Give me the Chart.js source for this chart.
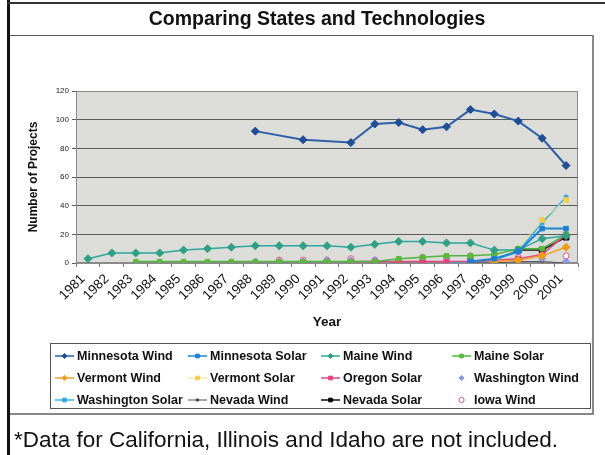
<!DOCTYPE html>
<html>
<head>
<meta charset="utf-8">
<script src="https://cdn.jsdelivr.net/npm/chart.js@4.4.1/dist/chart.umd.min.js"></script>
<style>
  html, body { margin: 0; padding: 0; background: #fff; }
  #wrap { position: relative; width: 605px; height: 455px; overflow: hidden;
          font-family: "Liberation Sans", Arial, sans-serif; color: #111; }
  #chart { position: absolute; left: 0; top: 0; }
  .rule { position: absolute; }
  .title { position: absolute; left: 26px; width: 582px; top: 7px; text-align: center;
           font-weight: bold; font-size: 19.5px; line-height: 23px; }
  .note { position: absolute; left: 14px; top: 427px; font-size: 22.5px; line-height: 26px; }
</style>
</head>
<body>
<div id="wrap">
  <canvas id="chart" width="605" height="455"></canvas>
  <div class="rule" style="left:7px;top:0;width:3px;height:455px;background:#111;"></div>
  <div class="rule" style="left:7px;top:2px;width:598px;height:2px;background:#333;"></div>
  <div class="rule" style="left:10px;top:35px;width:584px;height:1px;background:#555;"></div>
  <div class="rule" style="left:592px;top:35px;width:2px;height:380px;background:#888;"></div>
  <div class="rule" style="left:10px;top:413px;width:584px;height:2px;background:#888;"></div>
  <div class="title">Comparing States and Technologies</div>
  <div class="note">*Data for California, Illinois and Idaho are not included.</div>
</div>
<script>
// Project counts per year, 1981-2001 (null = no projects reported)
const years = ['1981','1982','1983','1984','1985','1986','1987','1988','1989','1990','1991',
               '1992','1993','1994','1995','1996','1997','1998','1999','2000','2001'];
const yTicks = [0, 20, 40, 60, 80, 100, 120];

const minnesotaWind    = [null,null,null,null,null,null,null,92,null,86,null,84,97,98,93,95,107,104,99,87,68];
const minnesotaSolar   = [null,null,null,null,null,null,null,null,null,null,null,null,null,null,null,null,1,3,8,24,24];
const maineWind        = [3,7,7,7,9,10,11,12,12,12,12,11,13,15,15,14,14,9,9,17,19];
const maineSolar       = [null,null,1,1,1,1,1,1,1,1,1,1,1,3,4,5,5,6,10,10,20];
const vermontWind      = [null,null,null,null,null,null,null,null,null,null,null,null,null,null,null,null,null,1,2,5,11];
const vermontSolar     = [null,null,null,null,null,null,null,null,null,null,null,null,null,null,null,null,null,2,10,30,44];
const oregonSolar      = [null,null,null,null,null,null,null,null,null,null,null,1,1,1,1,1,1,2,3,6,20];
const washingtonWind   = [null,null,null,null,null,null,null,1,1,1,2,2,2,2,2,2,2,3,3,3,1];
const washingtonSolar  = [null,null,null,null,null,null,null,null,null,null,null,null,null,null,null,0,1,2,8,28,46];
const nevadaWind       = [null,null,null,null,null,null,null,null,null,null,null,null,null,null,null,null,0,0,1,1,0];
const nevadaSolar      = [null,null,null,null,null,null,null,null,null,null,null,null,null,null,null,null,1,2,9,9,18];
const iowaWind         = [null,null,null,null,null,null,null,0,2,2,2,3,2,2,4,4,5,6,4,8,5];

const FONT = '"Liberation Sans", Arial, sans-serif';

function series(label, data, line, fill, style, radius, width, showLine) {
  return {
    label, data,
    borderColor: line, backgroundColor: fill,
    pointBorderColor: style === 'circle' ? line : fill,
    pointBackgroundColor: style === 'circle' ? '#ffffff' : fill,
    pointStyle: style, pointRadius: radius, pointBorderWidth: 1,
    borderWidth: width, showLine: showLine, tension: 0, spanGaps: true
  };
}

const datasets = [
  series('Minnesota Wind',   minnesotaWind,   '#2d5ea8', '#1f4e96', 'rectRot', 4,   2,   true),
  series('Minnesota Solar',  minnesotaSolar,  '#1c86d6', '#1c7fd0', 'rect',    3.2, 2,   true),
  series('Maine Wind',       maineWind,       '#2aa89c', '#2f9f86', 'rectRot', 4,   1.5, true),
  series('Maine Solar',      maineSolar,      '#52b340', '#5cb83a', 'rect',    3.2, 1.5, true),
  series('Vermont Wind',     vermontWind,     '#f3a024', '#f39a1c', 'rectRot', 4,   1.5, true),
  series('Vermont Solar',    vermontSolar,    '#f4e07a', '#f5cc46', 'rect',    3.2, 1,   true),
  series('Oregon Solar',     oregonSolar,     '#e2457f', '#ea3f7c', 'rect',    3.2, 1.5, true),
  series('Washington Wind',  washingtonWind,  '#9aa2e6', '#8f98e2', 'rectRot', 3.5, 1,   false),
  series('Washington Solar', washingtonSolar, '#34b4ec', '#2fa8e6', 'rect',    2.6, 1.5, true),
  series('Nevada Wind',      nevadaWind,      '#555555', '#444444', 'circle',  1.3, 1,   true),
  series('Nevada Solar',     nevadaSolar,     '#111111', '#000000', 'rect',    4,   1.5, true),
  series('Iowa Wind',        iowaWind,        '#e2508e', '#ffffff', 'circle',  3,   1,   false)
];
datasets[9].pointBackgroundColor = '#444444';
datasets[9].pointBorderColor = '#444444';

// Grey plot background with a thin frame
const plotFrame = {
  id: 'plotFrame',
  beforeDraw(chart) {
    const a = chart.chartArea, ctx = chart.ctx;
    ctx.save();
    ctx.fillStyle = '#dcdcd9';
    ctx.fillRect(a.left, a.top, a.right - a.left, a.bottom - a.top);
    ctx.restore();
  },
  beforeDatasetsDraw(chart) {
    const a = chart.chartArea, ctx = chart.ctx;
    ctx.save();
    ctx.strokeStyle = '#8a8a8a';
    ctx.lineWidth = 1;
    ctx.strokeRect(a.left + 0.5, a.top + 0.5, a.right - a.left - 1, a.bottom - a.top - 1);
    ctx.restore();
  }
};

// Four-column boxed legend under the axis
const gridLegend = {
  id: 'gridLegend',
  afterDraw(chart) {
    const ctx = chart.ctx;
    const textX = [77, 210, 343, 474];
    const rowY = [356, 378, 400];
    ctx.save();
    ctx.strokeStyle = '#555';
    ctx.lineWidth = 1;
    ctx.strokeRect(50.5, 343.5, 540, 65);
    ctx.font = 'bold 12.5px ' + FONT;
    ctx.textBaseline = 'middle';
    ctx.fillStyle = '#111';
    chart.data.datasets.forEach((ds, i) => {
      const tx = textX[i % 4], y = rowY[Math.floor(i / 4)];
      const x0 = tx - 22, x1 = tx - 3, xm = (x0 + x1) / 2;
      if (ds.showLine) {
        ctx.strokeStyle = ds.borderColor;
        ctx.lineWidth = Math.min(ds.borderWidth, 1.5);
        ctx.beginPath(); ctx.moveTo(x0, y); ctx.lineTo(x1, y); ctx.stroke();
      }
      ctx.fillStyle = ds.pointBackgroundColor;
      ctx.strokeStyle = ds.pointBorderColor;
      ctx.lineWidth = 1;
      Chart.helpers.drawPoint(ctx, { pointStyle: ds.pointStyle, radius: Math.min(ds.pointRadius, 2.6), borderWidth: 1, rotation: 0 }, xm, y);
      ctx.fillStyle = '#111';
      ctx.fillText(ds.label, tx, y + 0.5);
    });
    ctx.restore();
  }
};

new Chart(document.getElementById('chart'), {
  type: 'line',
  data: { labels: years, datasets },
  options: {
    responsive: false,
    animation: false,
    layout: { padding: { left: 20, right: 27, top: 91, bottom: 120 } },
    plugins: { legend: { display: false }, tooltip: { enabled: false } },
    scales: {
      x: {
        type: 'category',
        offset: true,
        grid: { offset: true, drawOnChartArea: false, tickLength: 4, color: '#777' },
        border: { color: '#8a8a8a' },
        ticks: { minRotation: 45, maxRotation: 45, autoSkip: false, padding: 4, labelOffset: -5,
                 font: { family: FONT, size: 13.5 }, color: '#111' },
        title: { display: true, text: 'Year', color: '#111',
                 font: { family: FONT, size: 13.5, weight: 'bold' }, padding: { top: 2, bottom: 5 } },
        afterFit(scale) { scale.height = 72; }
      },
      y: {
        min: 0, max: 120,
        afterBuildTicks(scale) { scale.ticks = yTicks.map(v => ({ value: v })); },
        grid: { color: '#5a5a5a', tickLength: 4, lineWidth: 1 },
        border: { color: '#8a8a8a' },
        ticks: { padding: 3, font: { family: FONT, size: 8 }, color: '#222' },
        title: { display: true, text: 'Number of Projects', color: '#111',
                 font: { family: FONT, size: 12, weight: 'bold' }, padding: { top: 6, bottom: 0 } },
        afterFit(scale) { scale.width = 56; }
      }
    }
  },
  plugins: [plotFrame, gridLegend]
});
</script>
</body>
</html>
